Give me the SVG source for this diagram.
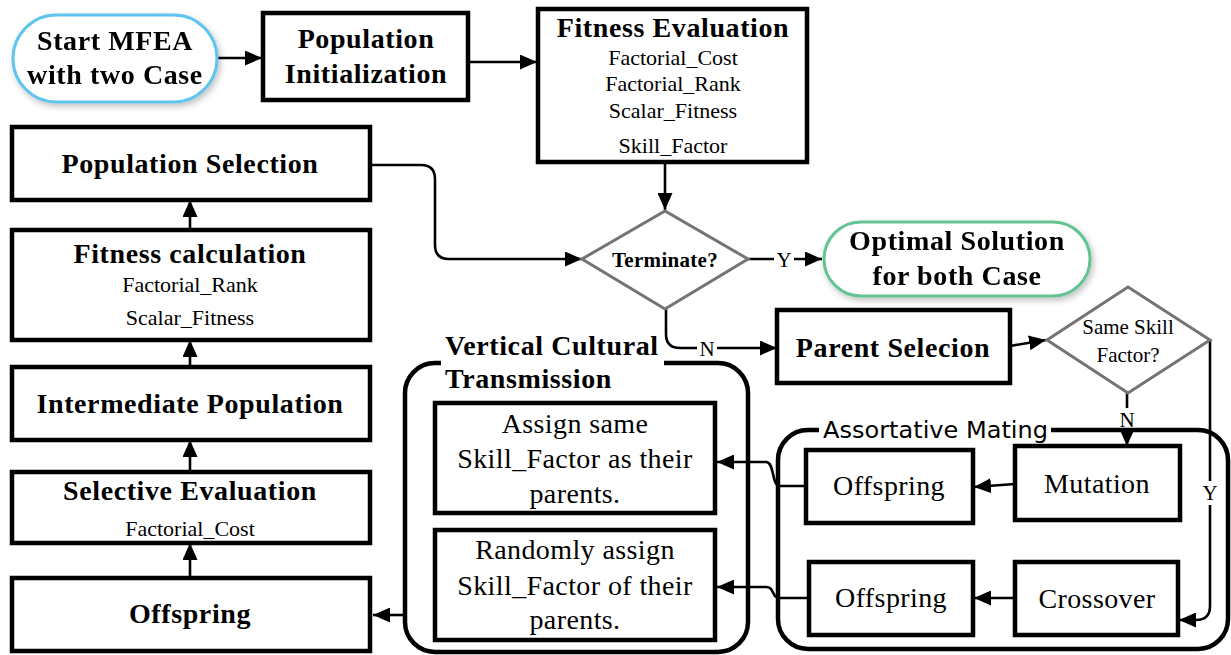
<svg xmlns="http://www.w3.org/2000/svg" width="1231" height="655" viewBox="0 0 1231 655">
<defs>
<style>
.box{fill:#fff;stroke:#000;stroke-width:4.5}
.cont{fill:none;stroke:#000;stroke-width:4.5}
.dia{fill:#fff;stroke:#747474;stroke-width:3}
.con{fill:none;stroke:#000;stroke-width:2.6}
.b{font-family:"Liberation Serif","Times New Roman",serif;font-weight:bold;font-size:28px;text-anchor:middle;letter-spacing:0.6px;fill:#000}
.r{font-family:"Liberation Serif","Times New Roman",serif;font-size:28px;text-anchor:middle;letter-spacing:0.4px;fill:#000}
.s{font-family:"Liberation Serif","Times New Roman",serif;font-size:22px;text-anchor:middle;fill:#000}
.lbl{font-family:"Liberation Serif","Times New Roman",serif;font-size:21px;text-anchor:middle;fill:#000}
.am{font-family:"DejaVu Sans","Noto Sans",sans-serif;font-size:23.5px;fill:#000}
</style>
<marker id="ah" markerUnits="userSpaceOnUse" markerWidth="17" markerHeight="15" refX="17" refY="7.5" orient="auto">
<path d="M0,0 L17,7.5 L0,15 Z" fill="#000"/>
</marker>
<filter id="sh" x="-20%" y="-30%" width="140%" height="160%">
<feDropShadow dx="2" dy="3" stdDeviation="3" flood-color="#000" flood-opacity="0.25"/>
</filter>
</defs>
<rect width="1231" height="655" fill="#fff"/>

<g id="connectors">
<path class="con" d="M217,58 L262,58" marker-end="url(#ah)"/>
<path class="con" d="M468,62 L537,62" marker-end="url(#ah)"/>
<path class="con" d="M665,162 L665,210" marker-end="url(#ah)"/>
<path class="con" d="M370,165 H421 Q435,165 435,179 V245 Q435,259 449,259 H582" marker-end="url(#ah)"/>
<path class="con" d="M748,259 H822" marker-end="url(#ah)"/>
<path class="con" d="M666,309 V334 Q666,348 680,348 H777" marker-end="url(#ah)"/>
<path class="con" d="M1010,346 L1046,340" marker-end="url(#ah)"/>
<path class="con" d="M1127,393 V446" marker-end="url(#ah)"/>
<path class="con" d="M1210,340 V606 Q1210,620 1196,620 H1179" marker-end="url(#ah)"/>
<path class="con" d="M1015,484 L974,487" marker-end="url(#ah)"/>
<path class="con" d="M1015,598 L974,598" marker-end="url(#ah)"/>
<path class="con" d="M806,486 H780 C771,486 775,462 766,462 H717" marker-end="url(#ah)"/>
<path class="con" d="M809,598 H780 C771,598 775,587 766,587 H717" marker-end="url(#ah)"/>
<path class="con" d="M405,615 H373" marker-end="url(#ah)"/>
<path class="con" d="M190,228 V200" marker-end="url(#ah)"/>
<path class="con" d="M190,367 V340" marker-end="url(#ah)"/>
<path class="con" d="M190,472 V440" marker-end="url(#ah)"/>
<path class="con" d="M190,578 V543" marker-end="url(#ah)"/>
<rect x="774" y="248" width="20" height="22" fill="#fff"/>
<text class="lbl" x="784" y="267">Y</text>
<rect x="697" y="337" width="20" height="22" fill="#fff"/>
<text class="lbl" x="707" y="356">N</text>
<rect x="1117" y="408" width="20" height="22" fill="#fff"/>
<text class="lbl" x="1127" y="427">N</text>
<rect x="1200" y="481" width="20" height="24" fill="#fff"/>
<text class="lbl" x="1210" y="500">Y</text>
</g>

<g id="start" filter="url(#sh)">
<rect x="13" y="15" width="204" height="87" rx="43.5" fill="#fff" stroke="#5ec4ee" stroke-width="3"/>
<text class="b" x="115" y="50">Start MFEA</text>
<text class="b" x="115" y="84">with two Case</text>
</g>

<g id="pop-init">
<rect class="box" x="263" y="13" width="205" height="87"/>
<text class="b" x="366" y="48">Population</text>
<text class="b" x="366" y="83">Initialization</text>
</g>

<g id="fitness-eval">
<rect class="box" x="538" y="9" width="269" height="153"/>
<text class="b" x="673" y="37">Fitness Evaluation</text>
<text class="s" x="673" y="65">Factorial_Cost</text>
<text class="s" x="673" y="91">Factorial_Rank</text>
<text class="s" x="673" y="118">Scalar_Fitness</text>
<text class="s" x="673" y="153">Skill_Factor</text>
</g>

<g id="terminate">
<polygon class="dia" points="582,259 665,211 748,259 665,309"/>
<text class="b" x="665" y="267" style="font-size:21px;letter-spacing:0.3px">Terminate?</text>
</g>

<g id="optimal" filter="url(#sh)">
<rect x="824" y="222" width="266" height="74" rx="37" fill="#fff" stroke="#62c492" stroke-width="3"/>
<text class="b" x="957" y="250">Optimal Solution</text>
<text class="b" x="957" y="285">for both Case</text>
</g>

<g id="parent-selection">
<rect class="box" x="777" y="310" width="233" height="73"/>
<text class="b" x="893" y="357">Parent Selecion</text>
</g>

<g id="same-skill">
<polygon class="dia" points="1047,340 1128,287 1210,340 1128,393"/>
<text class="lbl" x="1128" y="334">Same Skill</text>
<text class="lbl" x="1128" y="362">Factor?</text>
</g>

<g id="assortative-mating">
<rect class="cont" x="778" y="430" width="450" height="219" rx="30"/>
<rect x="819" y="418" width="232" height="24" fill="#fff"/>
<text class="am" x="823" y="438" textLength="225" lengthAdjust="spacingAndGlyphs">Assortative Mating</text>
</g>

<g id="mutation">
<rect class="box" x="1015" y="446" width="165" height="74"/>
<text class="r" x="1097" y="493">Mutation</text>
</g>

<g id="crossover">
<rect class="box" x="1015" y="562" width="163" height="73"/>
<text class="r" x="1097" y="608">Crossover</text>
</g>

<g id="offspring-mut">
<rect class="box" x="806" y="450" width="167" height="73"/>
<text class="r" x="889" y="495">Offspring</text>
</g>

<g id="offspring-cross">
<rect class="box" x="809" y="562" width="164" height="73"/>
<text class="r" x="891" y="607">Offspring</text>
</g>

<g id="vertical-cultural-transmission">
<rect class="cont" x="405" y="363" width="343" height="289" rx="30"/>
<rect x="441" y="335" width="223" height="33" fill="#fff"/>
<text class="b" x="445" y="355" style="text-anchor:start">Vertical Cultural</text>
<text class="b" x="445" y="388" style="text-anchor:start">Transmission</text>
</g>

<g id="assign-same">
<rect class="box" x="435" y="403" width="280" height="110"/>
<text class="r" x="575" y="433">Assign same</text>
<text class="r" x="575" y="468">Skill_Factor as their</text>
<text class="r" x="575" y="503">parents.</text>
</g>

<g id="randomly-assign">
<rect class="box" x="435" y="530" width="280" height="110"/>
<text class="r" x="575" y="559">Randomly assign</text>
<text class="r" x="575" y="595">Skill_Factor of their</text>
<text class="r" x="575" y="629">parents.</text>
</g>

<g id="population-selection">
<rect class="box" x="12" y="127" width="358" height="73"/>
<text class="b" x="190" y="173">Population Selection</text>
</g>

<g id="fitness-calculation">
<rect class="box" x="12" y="230" width="358" height="110"/>
<text class="b" x="190" y="263">Fitness calculation</text>
<text class="s" x="190" y="292">Factorial_Rank</text>
<text class="s" x="190" y="325">Scalar_Fitness</text>
</g>

<g id="intermediate-population">
<rect class="box" x="12" y="367" width="358" height="73"/>
<text class="b" x="190" y="413">Intermediate Population</text>
</g>

<g id="selective-evaluation">
<rect class="box" x="12" y="472" width="358" height="71"/>
<text class="b" x="190" y="500">Selective Evaluation</text>
<text class="s" x="190" y="536">Factorial_Cost</text>
</g>

<g id="offspring">
<rect class="box" x="12" y="578" width="358" height="73"/>
<text class="b" x="190" y="623">Offspring</text>
</g>
</svg>
